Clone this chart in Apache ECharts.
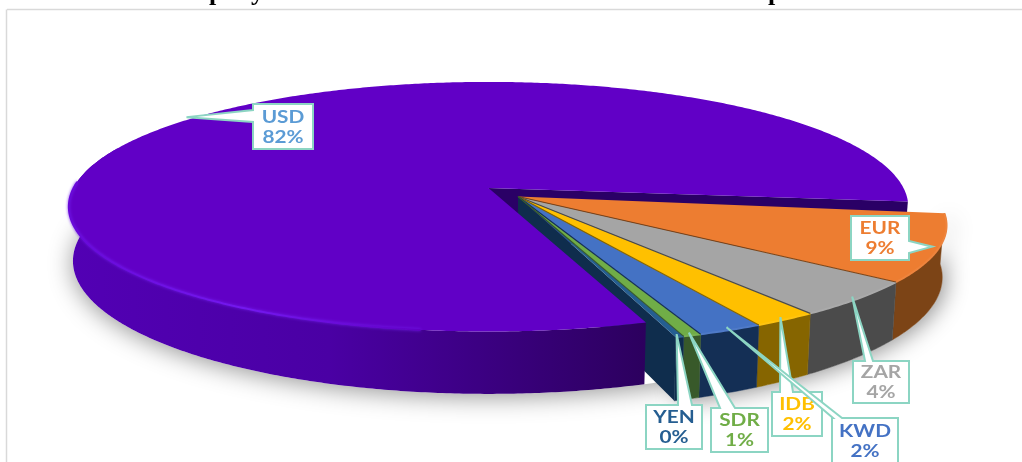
<!DOCTYPE html>
<html>
<head>
<meta charset="utf-8">
<style>html,body{margin:0;padding:0;background:#fff}#chart{width:1022px;height:462px}</style>
<script src="https://cdn.jsdelivr.net/npm/echarts@6/dist/echarts.min.js"></script>
</head>
<body>
<div id="chart"></div>
<script>
// Currency shares, percent of the total
const currencies = ['USD', 'EUR', 'ZAR', 'IDB', 'KWD', 'SDR', 'YEN'];
const shares = [82, 8.75, 4.45, 2, 2, 0.55, 0.25];

// Slice colours: top face, outer wall, label text
const topColors = ['#6100c6', '#ed7d31', '#a5a5a5', '#ffc000', '#4472c4', '#70ad47', '#255e91'];
const wallColors = ['#3f0090', '#7c4416', '#4b4b4b', '#866500', '#142f55', '#38592a', '#0f2d4d'];
const textColors = ['#5b9bd5', '#ed7d31', '#a5a5a5', '#ffc000', '#4472c4', '#70ad47', '#255e91'];

// Perspective discs: the main slice, and the pulled-out group of the others
const mainDisc = { cx: 488.5, cy: 188, R: 415, Q: 122, k: 0.15, H: 53, rot: 0 };
const sideDisc = { cx: 518, cy: 196.5, R: 416, Q: 113.4, k: 0.24, H: 49, rot: 2 };
const START_ANGLE = 71;
const BOTTOM_SHRINK = 0.99;

// Callout boxes [x, y, w, h], the side the pointer leaves from, and its base along that side
const calloutBoxes = [
  { box: [253, 104, 60, 45], side: 'left', base: [110, 122] },
  { box: [851, 216, 58, 44], side: 'right', base: [241, 253] },
  { box: [853, 361, 56, 42], side: 'top', base: [865, 873] },
  { box: [772, 392, 50, 44], side: 'top', base: [780, 793] },
  { box: [832, 418, 66, 46], side: 'top', base: [833, 842] },
  { box: [711, 408, 57, 44], side: 'top', base: [720, 735] },
  { box: [646, 405, 56, 44], side: 'top', base: [678, 692] }
];
const CALLOUT_STROKE = '#8cd5c3';

const total = shares.reduce((a, b) => a + b, 0);
const angles = [];
shares.reduce((acc, v) => {
  const sweep = v / total * 360;
  angles.push([acc, acc + sweep]);
  return acc + sweep;
}, START_ANGLE);

function project(d, deg, r) {
  const t = (deg + d.rot) * Math.PI / 180;
  const u = r * Math.cos(t), v = r * Math.sin(t), w = 1 - d.k * v;
  return [d.cx + d.R * u / w, d.cy + d.Q * v / w];
}
function projectBase(d, deg, r) {
  const t = (deg + d.rot) * Math.PI / 180;
  const u = r * Math.cos(t), v = r * Math.sin(t), w = 1 - d.k * v;
  return [d.cx + BOTTOM_SHRINK * d.R * u / w, d.cy + d.Q * v / w + d.H / w];
}
function arc(fn, d, a, b) {
  const pts = [], n = Math.max(2, Math.ceil(Math.abs(b - a) * 2));
  for (let i = 0; i <= n; i++) pts.push(fn(d, a + (b - a) * i / n, 1));
  return pts;
}
const sectorPts = (d, a, b) => [project(d, a, 0)].concat(arc(project, d, a, b));
const wallPts = (d, a, b) => arc(project, d, a, b).concat(arc(projectBase, d, a, b).reverse());
const lg = (stops, x2, y2) => new echarts.graphic.LinearGradient(0, 0, x2, y2, stops);
const discOf = i => (i === 0 ? mainDisc : sideDisc);

// Each layer paints one depth band, so slices overlap the way a solid pie does
const layers = [
  // soft ground shadow beneath the whole pie
  i => {
    if (i === 0) {
      return [{ type: 'polygon', shape: { points: arc(projectBase, mainDisc, 0, 360) },
        style: { fill: '#fff', shadowBlur: 24, shadowColor: 'rgba(0,0,0,0.42)', shadowOffsetY: 3 } }];
    }
    if (i === 1) {
      const a = angles[1][0], b = angles[6][1];
      return [{ type: 'polygon', shape: { points: wallPts(sideDisc, a, b) },
        style: { fill: '#fff', shadowBlur: 22, shadowColor: 'rgba(0,0,0,0.42)', shadowOffsetX: 4, shadowOffsetY: 2 } }];
    }
    return [];
  },
  // inner cut faces
  i => {
    if (i === 0) {
      const e = angles[0][1], c = project(mainDisc, e, 0), p = project(mainDisc, e, 1);
      const pb = projectBase(mainDisc, e, 1), cb = projectBase(mainDisc, e, 0);
      return [{ type: 'polygon', shape: { points: [c, p, pb, cb] }, style: { fill: '#2a0066' } }];
    }
    if (i === 6) {
      const e = angles[6][1], c = project(sideDisc, e, 0), p = project(sideDisc, e, 1);
      const pb = projectBase(sideDisc, e, 1), cb = projectBase(sideDisc, e, 0);
      return [{ type: 'polygon', shape: { points: [c, p, pb, cb] }, style: { fill: '#0f2d4d' } }];
    }
    return [];
  },
  // outer wall of the main slice
  i => (i !== 0 ? [] : [{
    type: 'polygon', shape: { points: wallPts(mainDisc, angles[0][0], 200) },
    style: { fill: lg([{ offset: 0, color: '#5200b4' }, { offset: 0.45, color: '#4a00a4' }, { offset: 1, color: '#2c005e' }], 1, 0) }
  }]),
  // top of the main slice with its bevel highlight
  i => (i !== 0 ? [] : [
    { type: 'polygon', shape: { points: sectorPts(mainDisc, angles[0][0], angles[0][1]) }, style: { fill: topColors[0] } },
    { type: 'polyline', shape: { points: arc(project, mainDisc, 98, 183) },
      style: { fill: null, lineWidth: 1.8, shadowBlur: 3, shadowColor: '#7420f0',
        stroke: lg([{ offset: 0, color: '#6808d8' }, { offset: 0.5, color: '#7418f0' }, { offset: 1, color: '#6100c6' }], 1, 0) } }
  ]),
  // outer walls of the pulled-out slices
  i => (i === 0 ? [] : [{
    type: 'polygon', shape: { points: wallPts(sideDisc, angles[i][0], angles[i][1]) },
    style: { fill: wallColors[i], stroke: wallColors[i], lineWidth: 0.5 }
  }]),
  // their top faces, each with a dark seam along its first edge
  i => {
    if (i === 0) return [];
    const a = angles[i][0], b = angles[i][1];
    const seamColor = i === 1 ? '#2a0066' : wallColors[i - 1];
    return [
      { type: 'polygon', shape: { points: sectorPts(sideDisc, a, b) }, style: { fill: topColors[i] } },
      { type: 'polyline', shape: { points: arc(project, sideDisc, a, b) },
        style: { fill: null, stroke: echarts.color.lift(topColors[i], 0.06), lineWidth: 2 } },
      { type: 'line', shape: { x1: project(sideDisc, a, 0)[0], y1: project(sideDisc, a, 0)[1],
        x2: project(sideDisc, a, 1)[0], y2: project(sideDisc, a, 1)[1] },
        style: { stroke: seamColor, lineWidth: i === 1 ? 0 : 1.1 } }
    ];
  },
  // callouts: box plus pointer running out to the slice, then the share text
  i => {
    const c = calloutBoxes[i], [x, y, w, h] = c.box, [b0, b1] = c.base;
    const mid = (angles[i][0] + angles[i][1]) / 2;
    const tip = project(discOf(i), mid, i === 0 ? 1.02 : 0.985);
    let pts;
    if (c.side === 'left') pts = [[x, y], [x + w, y], [x + w, y + h], [x, y + h], [x, b1], tip, [x, b0]];
    else if (c.side === 'right') pts = [[x, y], [x + w, y], [x + w, b0], tip, [x + w, b1], [x + w, y + h], [x, y + h]];
    else pts = [[x, y], [b0, y], tip, [b1, y], [x + w, y], [x + w, y + h], [x, y + h]];
    return [
      { type: 'polygon', shape: { points: pts }, style: { fill: '#fff', stroke: CALLOUT_STROKE, lineWidth: 2 } },
      { type: 'text', x: x + w / 2, y: y + h / 2 + 1, scaleX: 1.26,
        style: { text: currencies[i] + '\n' + Math.round(shares[i] / total * 100) + '%',
          fill: textColors[i], font: 'bold 16.5px Lato', lineHeight: 20, align: 'center', verticalAlign: 'middle' } }
    ];
  }
];

const chart = echarts.init(document.getElementById('chart'), null, { renderer: 'canvas' });
chart.setOption({
  animation: false,
  backgroundColor: '#fff',
  // panel frame and the last tails of the heading that runs off the top
  graphic: [
    { type: 'line', shape: { x1: 7, y1: 9.5, x2: 1022, y2: 9.5 }, style: { stroke: '#d9d9d9', lineWidth: 1.5 } },
    { type: 'line', shape: { x1: 6.5, y1: 9.5, x2: 6.5, y2: 462 }, style: { stroke: '#d9d9d9', lineWidth: 1.5 } },
    { type: 'text', x: 209, y: 6, style: { text: 'p', fill: '#000', font: 'bold 26px "Liberation Serif"', verticalAlign: 'bottom' } },
    { type: 'text', x: 251, y: 6, style: { text: 'y', fill: '#000', font: 'bold 26px "Liberation Serif"', verticalAlign: 'bottom' } },
    { type: 'text', x: 768, y: 6, style: { text: 'p', fill: '#000', font: 'bold 26px "Liberation Serif"', verticalAlign: 'bottom' } }
  ],
  series: layers.map(paint => ({
    type: 'custom',
    coordinateSystem: 'none',
    silent: true,
    clip: false,
    data: shares,
    renderItem: params => ({ type: 'group', children: paint(params.dataIndex) })
  }))
});
</script>
</body>
</html>
